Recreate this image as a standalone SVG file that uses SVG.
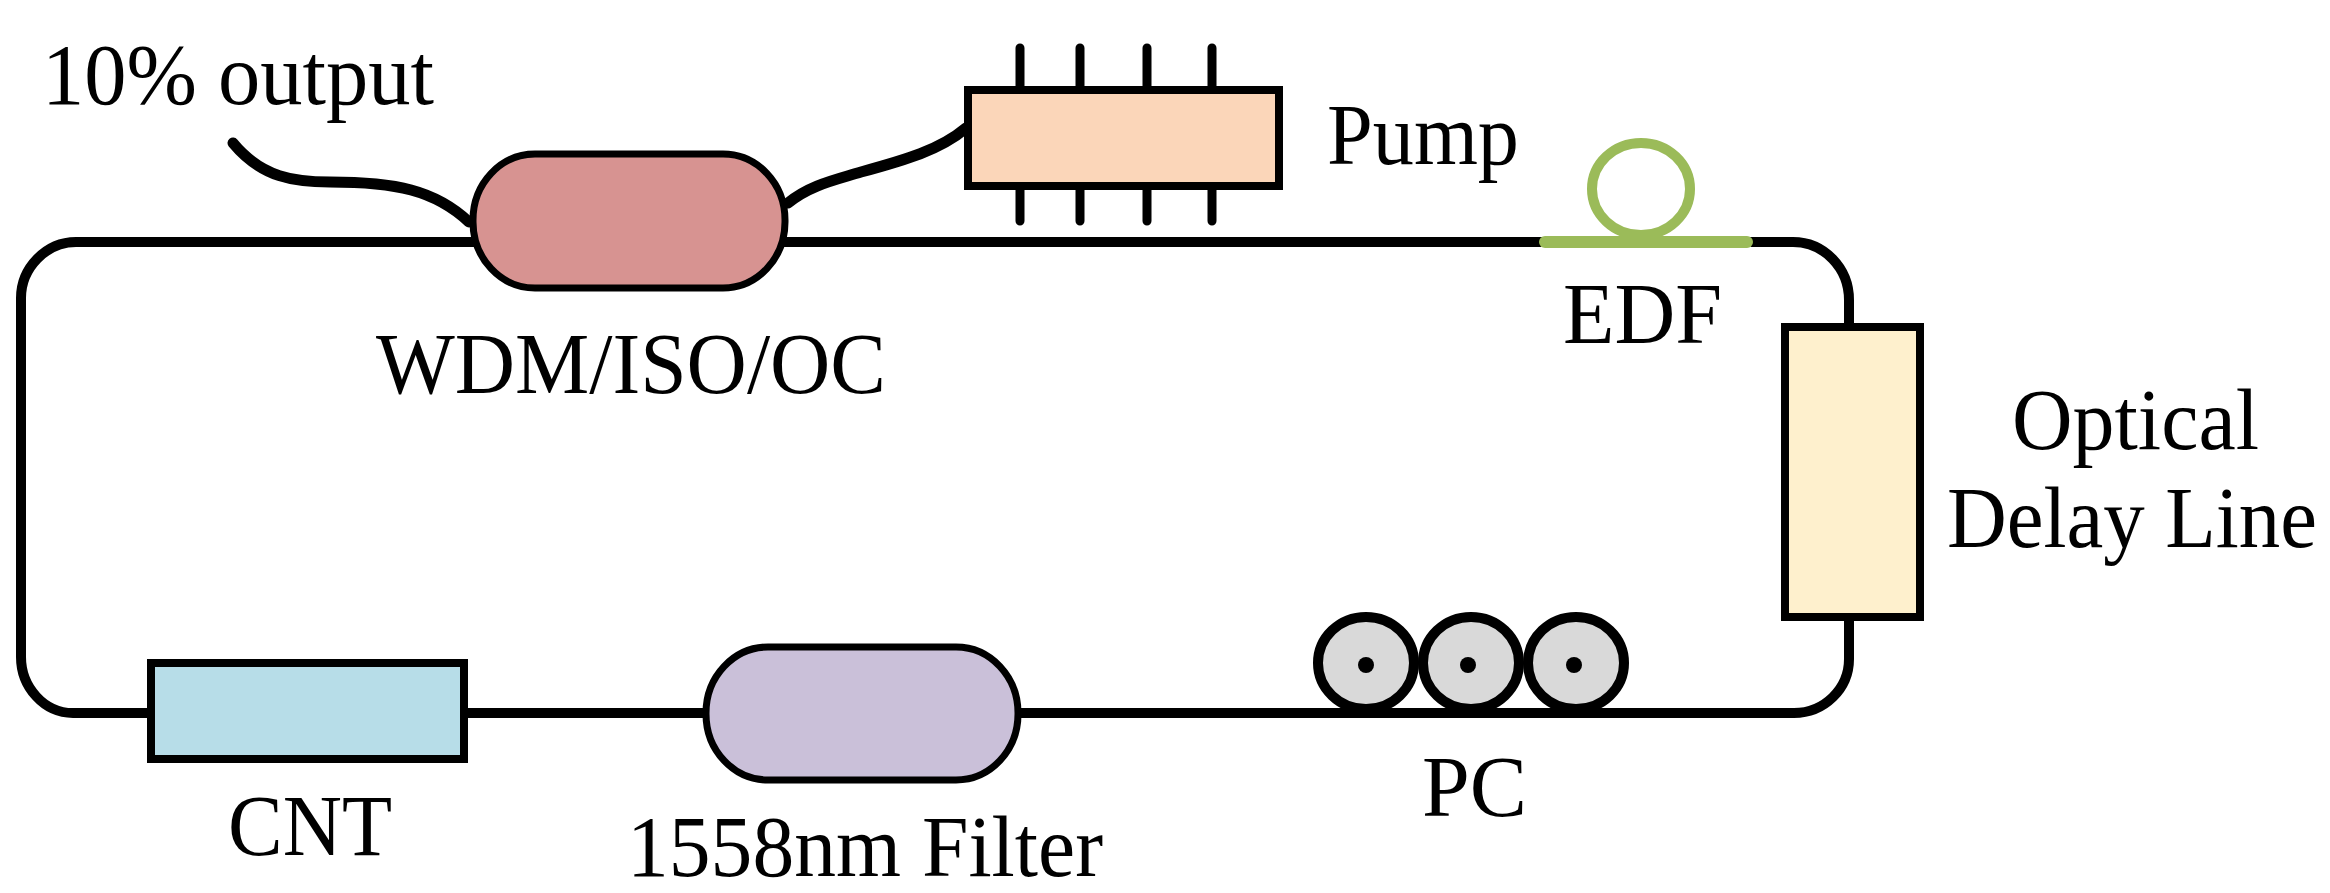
<svg xmlns="http://www.w3.org/2000/svg" width="2330" height="893" viewBox="0 0 2330 893">
<style>
text{font-family:"Liberation Serif","Times New Roman",serif;font-size:86px;fill:#000}
.f{fill:none;stroke:#000;stroke-width:10;stroke-linecap:round}
.c{fill:none;stroke:#000;stroke-width:11;stroke-linecap:round}
.b{stroke:#000;stroke-width:8}
.o{stroke:#000;stroke-width:7}
.p{fill:none;stroke:#000;stroke-width:9;stroke-linecap:round}
.r{fill:#d9d9d9;stroke:#000;stroke-width:10}
.e{fill:none;stroke:#9bbb59}
</style>
<rect width="2330" height="893" fill="#fff"/>
<g id="connectors">
<path class="f" d="M76 242H1793C1824 242 1849 268 1849 300V659C1849 689 1824 713 1794 713H73C44 713 21 687 21 657V298C21 268 46 242 76 242Z"/>
<path class="c" d="M233 143C262 178 295 182 330 182C395 182 435 190 469 222"/>
<path class="c" d="M788 203C810 185 835 180 861 172C905 160 940 150 966 128"/>
</g>
<g id="pump">
<path class="p" d="M1020 48V90M1080 48V90M1147 48V90M1212 48V90M1020 186V221M1080 186V221M1147 186V221M1212 186V221"/>
<rect class="b" x="968" y="90" width="311" height="96" fill="#fbd6b9"/>
<text x="1327" y="164" textLength="192" lengthAdjust="spacingAndGlyphs">Pump</text>
</g>
<g id="wdm-iso-oc">
<rect class="o" x="473" y="154" width="312" height="134" rx="62" ry="66" fill="#d79391"/>
<text x="376" y="393" textLength="510" lengthAdjust="spacingAndGlyphs">WDM/ISO/OC</text>
</g>
<g id="output-label"><text x="42" y="104" textLength="392" lengthAdjust="spacingAndGlyphs">10% output</text></g>
<g id="edf">
<ellipse class="e" cx="1641" cy="189" rx="49" ry="46" stroke-width="10"/>
<path class="e" d="M1545 242H1747" stroke-width="12" stroke-linecap="round"/>
<text x="1563" y="343" textLength="159" lengthAdjust="spacingAndGlyphs">EDF</text>
</g>
<g id="delay-line">
<rect class="b" x="1785" y="327" width="135" height="290" fill="#fef0cd"/>
<text x="2012" y="449" textLength="247" lengthAdjust="spacingAndGlyphs">Optical</text>
<text x="1947" y="547" textLength="370" lengthAdjust="spacingAndGlyphs">Delay Line</text>
</g>
<g id="pc">
<ellipse class="r" cx="1366" cy="663" rx="48" ry="46"/><circle cx="1366" cy="665" r="8"/>
<ellipse class="r" cx="1471" cy="663" rx="48" ry="46"/><circle cx="1468" cy="665" r="8"/>
<ellipse class="r" cx="1576" cy="663" rx="48" ry="46"/><circle cx="1574" cy="665" r="8"/>
<text x="1422" y="816" textLength="105" lengthAdjust="spacingAndGlyphs">PC</text>
</g>
<g id="filter">
<rect class="o" x="706" y="647" width="312" height="133" rx="62" ry="66" fill="#cac0d9"/>
<text x="627" y="876" textLength="476" lengthAdjust="spacingAndGlyphs">1558nm Filter</text>
</g>
<g id="cnt">
<rect class="b" x="151" y="663" width="313" height="96" fill="#b7dde8"/>
<text x="228" y="855" textLength="164" lengthAdjust="spacingAndGlyphs">CNT</text>
</g>
</svg>
